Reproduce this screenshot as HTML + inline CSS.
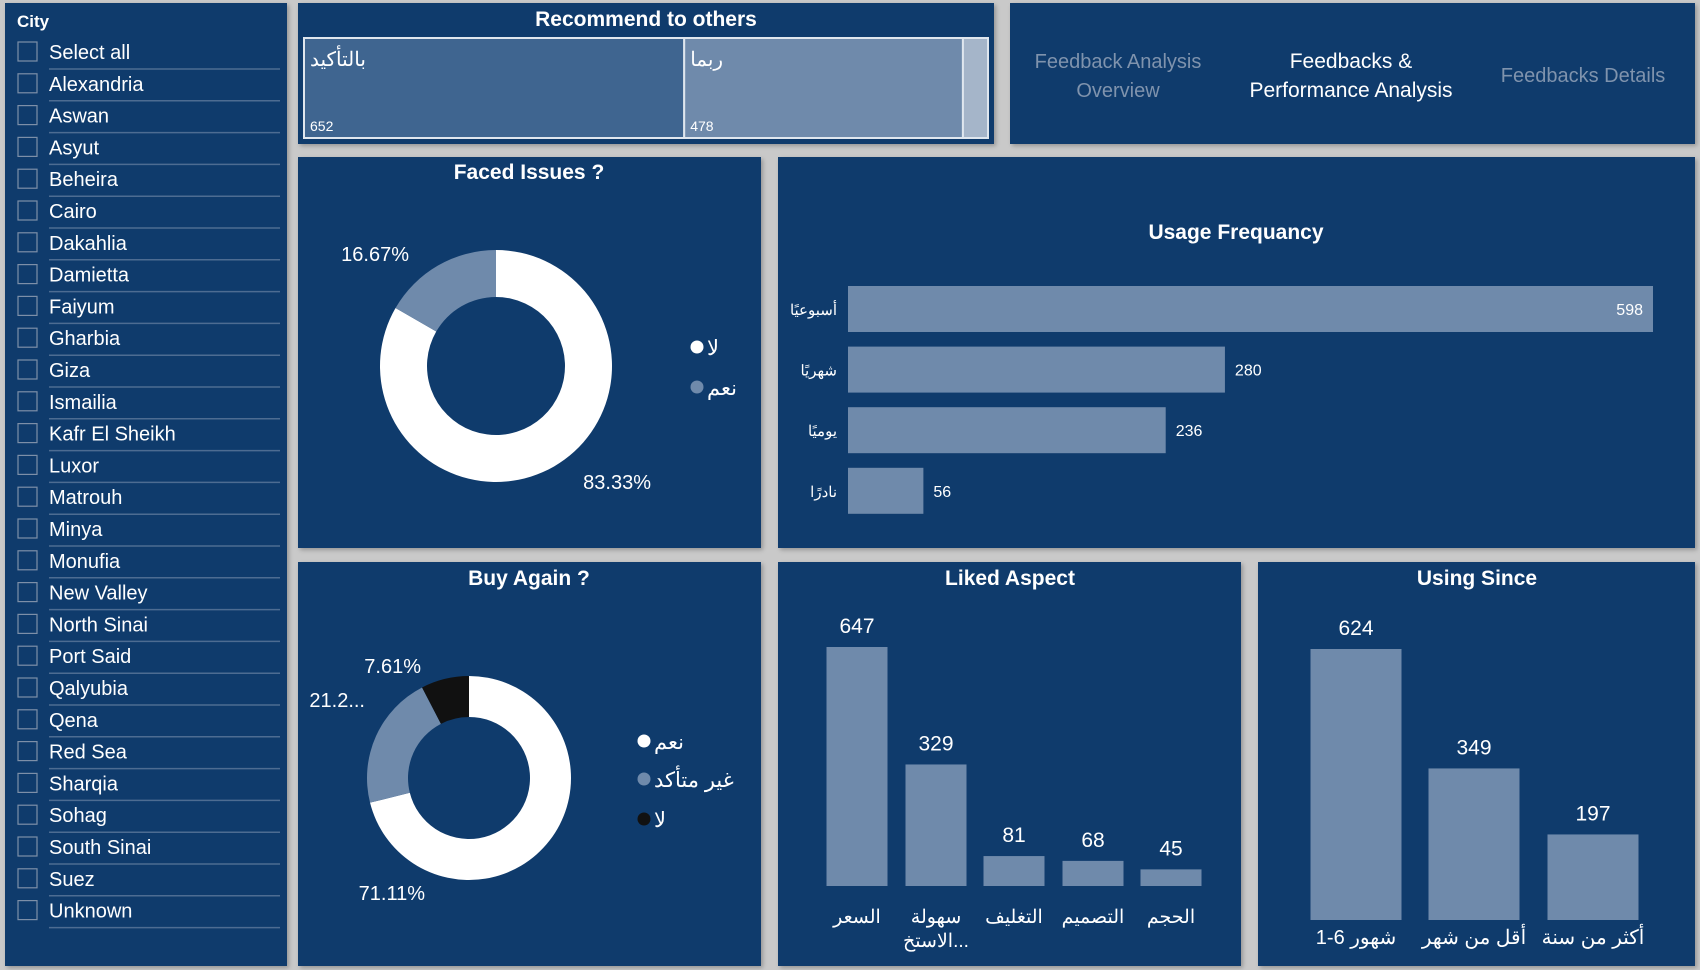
<!DOCTYPE html>
<html><head><meta charset="utf-8">
<style>
html,body{margin:0;padding:0;background:#c9c9c9;}
body{width:1700px;height:970px;overflow:hidden;position:relative;font-family:"Liberation Sans","Noto Sans CJK SC",sans-serif;}
.panel{position:absolute;background:#0f3b6c;box-shadow:2px 2px 4px rgba(0,0,0,0.25);}
svg text{font-family:"Liberation Sans","Noto Sans CJK SC",sans-serif;}
</style></head>
<body>
<div class="panel" style="left:5px;top:3px;width:282px;height:963px"></div>
<div class="panel" style="left:298px;top:3px;width:696px;height:141px"></div>
<div class="panel" style="left:1010px;top:3px;width:685px;height:141px"></div>
<div class="panel" style="left:298px;top:157px;width:463px;height:391px"></div>
<div class="panel" style="left:778px;top:157px;width:917px;height:391px"></div>
<div class="panel" style="left:298px;top:562px;width:463px;height:404px"></div>
<div class="panel" style="left:778px;top:562px;width:463px;height:404px"></div>
<div class="panel" style="left:1258px;top:562px;width:437px;height:404px"></div>

<svg id="main" width="1700" height="970" style="position:absolute;left:0;top:0">
<text x="17" y="27" fill="#fff" font-size="17" font-weight="bold">City</text>
<g id="slicer"></g>
<text x="646" y="26" fill="#fff" font-size="21" font-weight="bold" text-anchor="middle">Recommend to others</text>
<g id="treemap"></g>
<g><text x="1118" y="68" fill="#7f93ad" font-size="20" text-anchor="middle">Feedback Analysis</text><text x="1118" y="97" fill="#7f93ad" font-size="20" text-anchor="middle">Overview</text></g>
<g><text x="1351" y="68" fill="#fff" font-size="21" text-anchor="middle">Feedbacks &amp;</text><text x="1351" y="97" fill="#fff" font-size="21" text-anchor="middle">Performance Analysis</text></g>
<text x="1583" y="82" fill="#7f93ad" font-size="20" text-anchor="middle">Feedbacks Details</text>
<text x="529" y="179" fill="#fff" font-size="21" font-weight="bold" text-anchor="middle">Faced Issues ?</text>
<g id="donut1"></g>
<text x="1236" y="239" fill="#fff" font-size="21" font-weight="bold" text-anchor="middle">Usage Frequancy</text>
<g id="usage"></g>
<text x="529" y="585" fill="#fff" font-size="21" font-weight="bold" text-anchor="middle">Buy Again ?</text>
<g id="donut2"></g>
<text x="1010" y="585" fill="#fff" font-size="21" font-weight="bold" text-anchor="middle">Liked Aspect</text>
<g id="liked"></g>
<text x="1477" y="585" fill="#fff" font-size="21" font-weight="bold" text-anchor="middle">Using Since</text>
<g id="since"></g>
</svg>
<script>
const NS='http://www.w3.org/2000/svg';
const cities=['Select all','Alexandria','Aswan','Asyut','Beheira','Cairo','Dakahlia','Damietta','Faiyum','Gharbia','Giza','Ismailia','Kafr El Sheikh','Luxor','Matrouh','Minya','Monufia','New Valley','North Sinai','Port Said','Qalyubia','Qena','Red Sea','Sharqia','Sohag','South Sinai','Suez','Unknown'];
const recCats=['بالتأكيد','ربما',''];
const recVals=[652,478,43];
const issueCats=['لا','نعم'];
const issueVals=[83.33,16.67];
const issueLabels=['83.33%','16.67%'];
const buyCats=['نعم','غير متأكد','لا'];
const buyVals=[71.11,21.28,7.61];
const buyLabels=['71.11%','21.2...','7.61%'];
const usageCats=['أسبوعيًا','شهريًا','يوميًا','نادرًا'];
const usageVals=[598,280,236,56];
const likedCats=['السعر','سهولة الاستخ...','التغليف','التصميم','الحجم'];
const likedVals=[647,329,81,68,45];
const sinceCats=['1-6 شهور','أقل من شهر','أكثر من سنة'];
const sinceVals=[624,349,197];

function el(tag,attrs,parent,txt){const e=document.createElementNS(NS,tag);for(const k in attrs)e.setAttribute(k,attrs[k]);if(txt!==undefined)e.textContent=txt;parent.appendChild(e);return e;}

const sl=document.getElementById('slicer');
cities.forEach((c,i)=>{const y=52+i*31.8;
 const g=el('g',{},sl);
 
 
 el('rect',{x:18,y:y-10,width:19,height:19,fill:'none',stroke:'#7d8fa8','stroke-width':1.2},g);
 el('text',{x:49,y:y+7,fill:'#fff','font-size':20},g,c);
 el('line',{x1:49,x2:280,y1:y+17,y2:y+17,stroke:'#4d6c92','stroke-width':1.5},g);
});

const tm=document.getElementById('treemap');
const tx0=304,tx1=988,ty0=38,ty1=138;
const recTot=recVals.reduce((a,b)=>a+b,0);
const recCols=['#3f6590','#6f8aab','#a5b5c9'];
let cx=tx0;
recVals.forEach((v,i)=>{const w=(tx1-tx0)*v/recTot;
 const g=el('g',{},tm);
 
 
 el('rect',{x:cx,y:ty0,width:w,height:ty1-ty0,fill:recCols[i],stroke:'#dfe6ee','stroke-width':2},g);
 if(recCats[i]){el('text',{x:cx+6,y:ty0+28,fill:'#fff','font-size':20,'text-anchor':'start'},g,recCats[i]);
 el('text',{x:cx+6,y:ty1-7,fill:'#fff','font-size':14},g,String(v));}
 cx+=w;});

function donut(gid,vals,cats,labels,cols,cx,cy,R,r,labelPos,legend){
 const g=document.getElementById(gid);const tot=vals.reduce((a,b)=>a+b,0);let a=0;
 vals.forEach((v,i)=>{const a0=a,a1=a+v/tot*2*Math.PI;a=a1;
  const p=(ang,rad)=>[cx+rad*Math.sin(ang),cy-rad*Math.cos(ang)];
  const [x0,y0]=p(a0,R),[x1,y1]=p(a1,R),[x2,y2]=p(a1,r),[x3,y3]=p(a0,r);const lg=(a1-a0)>Math.PI?1:0;
  const s=el('path',{d:`M${x0},${y0}A${R},${R} 0 ${lg} 1 ${x1},${y1}L${x2},${y2}A${r},${r} 0 ${lg} 0 ${x3},${y3}Z`,fill:cols[i]},g);
  
  
  const lp=labelPos[i];const t=el('text',{x:lp[0],y:lp[1],fill:'#fff','font-size':20,'text-anchor':lp[2]},g,labels[i]);
  
  
 });
 cats.forEach((c,i)=>{const [lx,ly]=legend[i];const lg=el('g',{},g);
  
  
  el('circle',{cx:lx,cy:ly,r:6.5,fill:cols[i]},lg);
  el('text',{x:lx+10,y:ly+8,fill:'#fff','font-size':21},lg,c);});
}
donut('donut1',issueVals,issueCats,issueLabels,['#ffffff','#6f8aab'],496,366,116,69,[[651,489,'end'],[409,261,'end']],[[697,347],[697,387]]);
donut('donut2',buyVals,buyCats,buyLabels,['#ffffff','#6f8aab','#111111'],469,778,102,61,[[425,900,'end'],[365,707,'end'],[421,673,'end']],[[644,741],[644,779],[644,819]]);

const ug=document.getElementById('usage');
const uX0=848,uMaxW=805,uMax=598;
const ux=v=>v/uMax*uMaxW;
const uy=i=>309+i*60.6;
usageVals.forEach((v,i)=>{const w=ux(v);const y=uy(i);
 const r=el('rect',{x:uX0,y:y-23,width:w,height:46,fill:'#6f8aab'},ug);
 
 
 el('text',{x:837,y:y+6,fill:'#fff','font-size':15,'text-anchor':'end'},ug,usageCats[i]);
 const inside=w>700;
 el('text',{x:inside?uX0+w-10:uX0+w+10,y:y+6,fill:'#fff','font-size':16,'text-anchor':inside?'end':'start'},ug,String(v));
});

function columns(gid,vals,cats,xs,bw,base,maxV,maxH,labelY,fs){
 const g=document.getElementById(gid);
 vals.forEach((v,i)=>{const h=v/maxV*maxH;const x=xs[i];
  const r=el('rect',{x:x-bw/2,y:base-h,width:bw,height:h,fill:'#6f8aab'},g);
  
  
  el('text',{x:x,y:base-h-14,fill:'#fff','font-size':21,'text-anchor':'middle'},g,String(v));
  const parts=cats[i].length>10&&gid==='liked'?['سهولة','الاستخ...']:[cats[i]];
  parts.forEach((p,j)=>el('text',{x:x,y:labelY+j*24,fill:'#fff','font-size':fs,'text-anchor':'middle'},g,p));
 });
}
const likedX=[857,936,1014,1093,1171];
columns('liked',likedVals,likedCats,likedX,61,886,647,239,923,19);
const sinceX=[1356,1474,1593];
columns('since',sinceVals,sinceCats,sinceX,91,920,624,271,944,20);
</script>
</body></html>
